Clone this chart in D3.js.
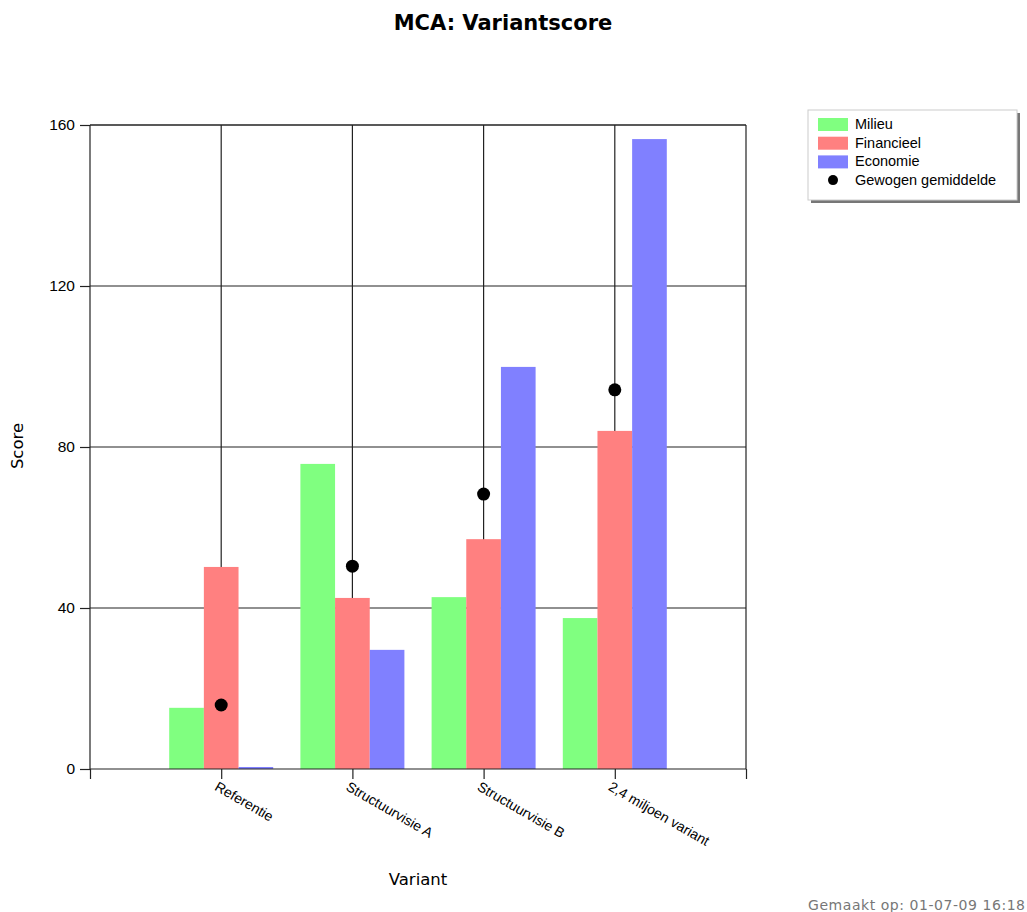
<!DOCTYPE html>
<html><head><meta charset="utf-8">
<script src="https://cdn.jsdelivr.net/npm/d3@7"></script>
<style>body{margin:0;background:#fff}svg{display:block}</style>
</head><body>
<script>
const categories = ["Referentie", "Structuurvisie A", "Structuurvisie B", "2,4 miljoen variant"];
const seriesNames = ["Milieu", "Financieel", "Economie"];
const milieu = [15.2, 75.8, 42.7, 37.5];
const financieel = [50.2, 42.5, 57.1, 84.0];
const economie = [0.5, 29.6, 99.9, 156.5];
const gewogen = [15.9, 50.4, 68.3, 94.2];
const yTicks = [0, 40, 80, 120, 160];
const colors = ["#80ff80", "#ff8080", "#8080ff"];
const series = [milieu, financieel, economie];

(function () {
const W = 1027, H = 912;
const svg = d3.select("body").append("svg").attr("width", W).attr("height", H);
const font = "'Liberation Sans', Arial, sans-serif";
const vfont = "'DejaVu Sans', Verdana, sans-serif";

const pL = 90, pR = 746, pT = 125, pB = 769;
const x = d3.scaleLinear().domain([0, categories.length + 1]).range([pL, pR]);
const y = d3.scaleLinear().domain([0, 160]).range([pB, pT]);
const inner = d3.scaleBand().domain(seriesNames).range([-52, 52]).padding(0);

svg.append("text").attr("x", 503).attr("y", 30).attr("text-anchor", "middle")
  .attr("font-family", vfont).attr("font-weight", "bold")
  .attr("font-size", 21).attr("fill", "#000").text("MCA: Variantscore");

const lineCol = "#222";
svg.append("g").selectAll("line").data(yTicks.filter(d => d > 0)).join("line")
  .attr("x1", pL).attr("x2", pR).attr("y1", d => y(d)).attr("y2", d => y(d))
  .attr("stroke", lineCol).attr("stroke-width", 1.2);
svg.append("g").selectAll("line").data(categories).join("line")
  .attr("x1", (d, i) => x(i + 1)).attr("x2", (d, i) => x(i + 1))
  .attr("y1", pT).attr("y2", pB)
  .attr("stroke", lineCol).attr("stroke-width", 1.2);
svg.append("line").attr("x1", pR).attr("x2", pR).attr("y1", pT).attr("y2", pB)
  .attr("stroke", lineCol).attr("stroke-width", 1.2);

categories.forEach((c, i) => {
  series.forEach((s, k) => {
    svg.append("rect")
      .attr("x", x(i + 1) + inner(seriesNames[k]))
      .attr("width", inner.bandwidth())
      .attr("y", y(s[i]))
      .attr("height", y(0) - y(s[i]))
      .attr("fill", colors[k]);
  });
});

svg.append("g").selectAll("circle").data(gewogen).join("circle")
  .attr("cx", (d, i) => x(i + 1)).attr("cy", d => y(d)).attr("r", 6.5).attr("fill", "#000");

const yAxis = svg.append("g").attr("transform", `translate(${pL},0)`)
  .call(d3.axisLeft(y).tickValues(yTicks).tickSize(10).tickPadding(5).tickFormat(d3.format("d")));
yAxis.selectAll("path,line").attr("stroke", lineCol).attr("stroke-width", 1.2);
yAxis.select(".domain").attr("d", `M0,${pB}V${pT}`);
yAxis.selectAll("text").attr("font-family", font).attr("font-size", 15.5).attr("fill", "#000");
svg.append("line").attr("x1", pL).attr("x2", pR).attr("y1", pT).attr("y2", pT)
  .attr("stroke", lineCol).attr("stroke-width", 1.2);

const xTickVals = d3.range(0, categories.length + 2);
const xAxis = svg.append("g").attr("transform", `translate(0,${pB})`)
  .call(d3.axisBottom(x).tickValues(xTickVals).tickSize(10).tickFormat(d => (d >= 1 && d <= categories.length) ? categories[d - 1] : ""));
xAxis.selectAll("path,line").attr("stroke", lineCol).attr("stroke-width", 1.2);
xAxis.select(".domain").attr("d", `M${pL},0H${pR}`);
xAxis.selectAll("text").attr("font-family", font).attr("font-size", 14).attr("fill", "#000")
  .attr("text-anchor", "start").attr("transform", "translate(-3,12) rotate(30)").attr("y", 0).attr("dy", "0.7em");

svg.append("text").attr("x", 418).attr("y", 885).attr("text-anchor", "middle")
  .attr("font-family", vfont).attr("font-size", 16.5).attr("fill", "#000").text("Variant");
svg.append("text").attr("transform", "translate(23,446) rotate(-90)").attr("text-anchor", "middle")
  .attr("font-family", vfont).attr("font-size", 16.5).attr("fill", "#000").text("Score");

const lg = svg.append("g");
lg.append("rect").attr("x", 811).attr("y", 113).attr("width", 209).attr("height", 90).attr("fill", "#777");
lg.append("rect").attr("x", 808).attr("y", 110).attr("width", 209).attr("height", 90).attr("fill", "#fff").attr("stroke", "#ccc");
const legItems = seriesNames.concat(["Gewogen gemiddelde"]);
legItems.forEach((n, i) => {
  const yy = 124 + i * 18.7;
  if (i < 3) {
    lg.append("rect").attr("x", 818).attr("y", yy - 6).attr("width", 30).attr("height", 13).attr("fill", colors[i]);
  } else {
    lg.append("circle").attr("cx", 833).attr("cy", yy).attr("r", 5).attr("fill", "#000");
  }
  lg.append("text").attr("x", 855).attr("y", yy).attr("dy", "0.35em")
    .attr("font-family", font).attr("font-size", 14.5).attr("fill", "#000").text(n);
});

svg.append("text").attr("x", 808).attr("y", 910)
  .attr("font-family", vfont).attr("font-size", 14).attr("letter-spacing", 0.55).attr("fill", "#777")
  .text("Gemaakt op: 01-07-09 16:18");
})();
</script>
</body></html>
